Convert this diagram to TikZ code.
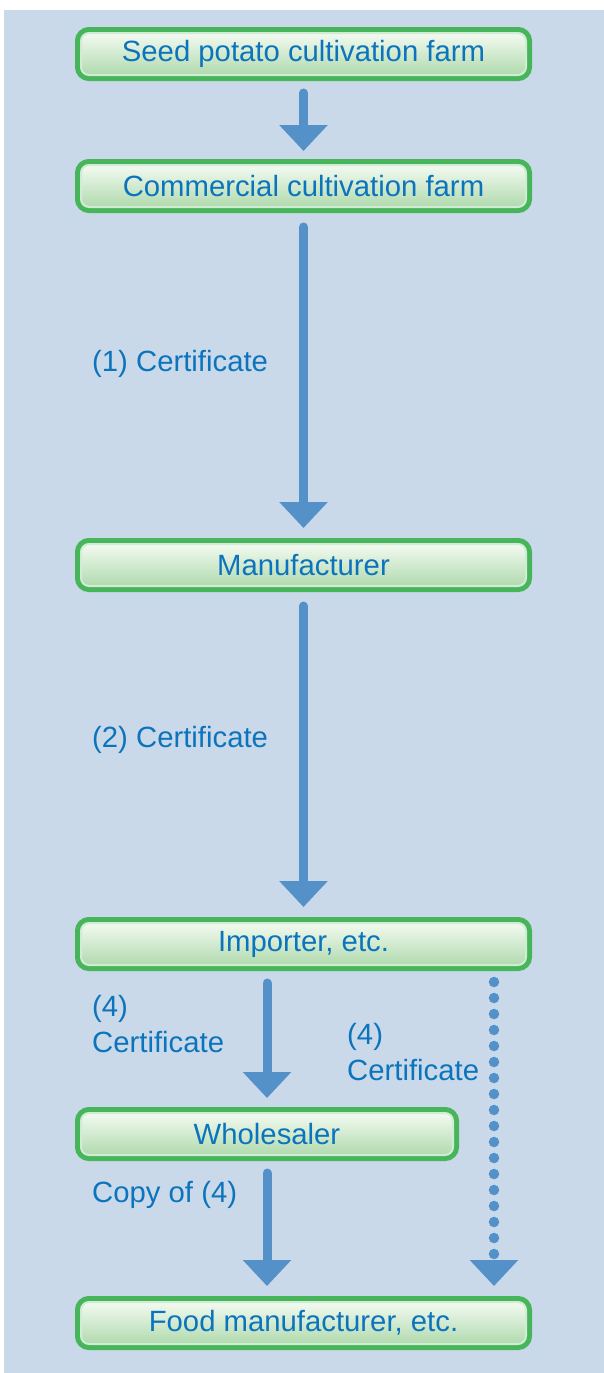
\documentclass[tikz,border=0pt]{standalone}
\usepackage{fontspec}
\setmainfont{Liberation Sans}
\usetikzlibrary{arrows.meta}

\definecolor{bgblue}{HTML}{CAD9E9}
\definecolor{textblue}{HTML}{0C74BC}
\definecolor{arrowblue}{HTML}{5591C9}
\definecolor{boxgreen}{HTML}{47B559}
\definecolor{boxtop}{HTML}{F3FAF1}
\definecolor{boxbottom}{HTML}{B0DAAE}

\begin{document}
\begin{tikzpicture}[x=1pt, y=-1pt,
    stage/.style={rectangle, rounded corners=8pt, minimum width=445pt, minimum height=42pt,
        outer sep=6pt, inner sep=0pt, text=textblue, font=\fontsize{29.3}{35}\selectfont,
        preaction={draw=boxgreen, line width=12pt},
        top color=boxtop, bottom color=boxbottom, draw=white!75!boxgreen, line width=2pt},
    flow/.style={draw=arrowblue, line width=9pt, line cap=round,
        -{Triangle[width=47pt, length=26pt]}},
    lbl/.style={text=textblue, anchor=west, align=left, inner sep=0pt,
        font=\fontsize{29.3}{36}\selectfont}]
    \useasboundingbox (0,0) rectangle (604,1373);
    \fill[bgblue] (4,10) rectangle (604,1373);

    % stages
    \node[stage] (seed) at (303.5,54) {Seed potato cultivation farm};
    \node[stage] (farm) at (303.5,186) {Commercial cultivation farm};
    \node[stage] (maker) at (303.5,565) {Manufacturer};
    \node[stage] (imp) at (303.5,944) {Importer, etc.};
    \node[stage, minimum width=372pt] (whole) at (267,1134) {Wholesaler};
    \node[stage] (food) at (303.5,1323) {Food manufacturer, etc.};

    % certificates
    \node[lbl] (cert1) at (92,364) {(1) Certificate};
    \node[lbl] (cert2) at (92,740) {(2) Certificate};
    \node[lbl] (cert4a) at (92,1024) {(4)\\Certificate};
    \node[lbl] (cert4b) at (347,1052) {(4)\\Certificate};
    \node[lbl] (copy4) at (92,1195) {Copy of (4)};

    % flows
    \draw[flow, shorten <=12pt, shorten >=8pt] (seed.south) -- (farm.north);
    \draw[flow, shorten <=14pt, shorten >=10pt] (farm.south) -- (maker.north);
    \draw[flow, shorten <=14pt, shorten >=10pt] (maker.south) -- (imp.north);
    \draw[flow, shorten <=12pt, shorten >=9pt] (imp.south -| whole.north) -- (whole.north);
    \draw[flow, shorten <=12pt, shorten >=10pt] (whole.south) -- (food.north -| whole.south);
    \draw[flow, line width=10.5pt, dash pattern=on 0pt off 16pt, shorten <=11pt, shorten >=10pt,
        -{Triangle[width=47pt, length=26pt]}]
        ([xshift=-38pt]imp.south east) -- ([xshift=-38pt]food.north east);
\end{tikzpicture}
\end{document}
